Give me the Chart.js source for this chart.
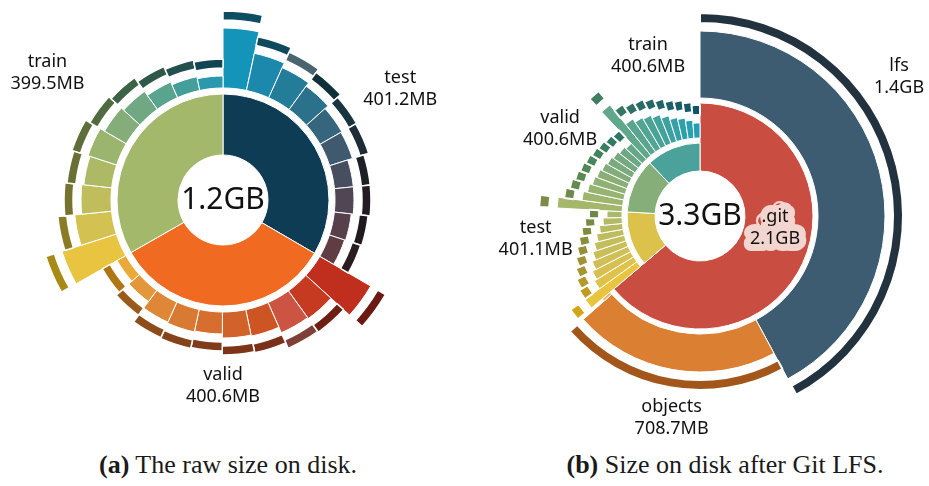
<!DOCTYPE html>
<html>
<head>
<meta charset="utf-8">
<script src="https://cdn.jsdelivr.net/npm/chart.js@4.4.0/dist/chart.umd.min.js"></script>
<style>
    body { margin: 0; background: #fff; width: 929px; height: 486px; position: relative; overflow: hidden; }
    canvas { position: absolute; top: 0; }
    #rawChart { left: 0; }
    #lfsChart { left: 470px; }
    .caption {
        position: absolute; top: 450px; transform: translateX(-50%);
        font-family: "Liberation Serif", "DejaVu Serif", serif; font-size: 26px;
        line-height: 30px; color: #1a1a1a; white-space: nowrap;
    }
</style>
</head>
<body>
<canvas id="rawChart" width="446" height="440"></canvas>
<canvas id="lfsChart" width="460" height="440"></canvas>
<div class="caption" style="left:228px"><b>(a)</b> The raw size on disk.</div>
<div class="caption" style="left:725px"><b>(b)</b> Size on disk after Git LFS.</div>

<script>
// ---- (a) raw dataset folders, MB per shard ----
const rawSplits = ['test', 'valid', 'train'];
const rawTestMB  = [40.3, 40.1, 40.2, 40.0, 40.1, 40.2, 40.1, 40.0, 40.1, 40.1];
const rawValidMB = [40.2, 40.0, 40.1, 40.0, 40.1, 40.0, 40.1, 40.0, 40.1, 40.0];
const rawTrainMB = [40.1, 39.9, 40.0, 39.9, 40.0, 39.9, 40.0, 39.9, 39.9, 39.9];
// how far each shard sticks out past its split ring
const rawSplitDepth = [61, 61, 61];
const rawTestDepth  = [60, 38, 33, 29, 25, 24, 19, 19, 17, 16];
const rawValidDepth = [59, 34, 33, 27, 26, 22, 23, 22, 14, 10];
const rawTrainDepth = [57, 37, 30, 28, 30, 25, 22, 17, 14, 12];

// ---- (b) same repo after git lfs ----
const lfsParts = ['.git', 'test', 'valid', 'train'];
const gitParts = ['lfs', 'objects', 'other'];
const gitPartMB = [1400, 708.7, 12];
const lfsTestMB  = [40.2, 40.1, 40.1, 40.1, 40.1, 40.1, 40.1, 40.1, 40.1, 40.1];
const lfsValidMB = [40.2, 40.0, 40.1, 40.0, 40.1, 40.0, 40.1, 40.0, 40.1, 40.0];
const lfsTrainMB = [40.2, 40.0, 40.1, 40.0, 40.1, 40.0, 40.1, 40.0, 40.1, 40.0];
const lfsPartDepth  = [68, 28, 28, 28];
const gitPartDepth  = [67, 38, 10];
const lfsTestDepth  = [64, 46, 43, 39, 35, 31, 27, 23, 19, 15];
const lfsValidDepth = [65, 41, 37, 34, 32, 30, 28, 26, 24, 22];
const lfsTrainDepth = [65, 40, 36, 34, 31, 27, 23, 21, 18, 15];

// colours
const rawSplitColors = ['#0e3c55', '#f06a21', '#a4b86c'];
const rawFileColors = [
    '#1594ba', '#1c88ab', '#237c98', '#2b718b', '#36667e', '#3f5a6e', '#474e5e', '#504654', '#573f4b', '#603c44',
    '#c02e1e', '#c53a21', '#cb5542', '#cd5524', '#d0622a', '#d56e2e', '#d97a32', '#de8737', '#e4963a', '#eba83b',
    '#e8c441', '#d3c152', '#c0bd5d', '#aeb966', '#9bb46e', '#84ad79', '#70a884', '#5aa38e', '#449e9a', '#2a99ae'
];
const rawTipColors = [
    '#0e4e63', '#0f4a5c', '#4b6570', '#10303a', '#1a3540', '#1f2c36', '#1e2028', '#221c22', '#201a1e', '#2a1c1f',
    '#6a1a12', '#6e1f14', '#7f4038', '#7a3019', '#7c3519', '#7f3b1a', '#86431b', '#8d4d1b', '#9a5a19', '#b07514',
    '#a88a14', '#8a7c25', '#767330', '#6a7035', '#5e6d3b', '#516b40', '#3e6246', '#2f5848', '#22504e', '#124553'
];
const lfsPartColors = ['#c94d40', '#dcc24b', '#86ae78', '#4aa29b'];
const lfsFileColors = [
    '#3e5c71', '#db7f32', '#f2b466',
    '#e8c43f', '#dec24a', '#d7c04f', '#d0bf54', '#cabe58', '#c4bd5c', '#bebc5f', '#b8bb62', '#b2ba65', '#acb968',
    '#a5b76b', '#9eb56e', '#97b371', '#90b174', '#89af77', '#82ad7a', '#7bab7d', '#74a981', '#6da885', '#66a788',
    '#60a78b', '#59a58f', '#52a493', '#4aa397', '#43a29b', '#3ca1a0', '#35a0a5', '#2ea0aa', '#27a0b0', '#1f9fb6'
];
const lfsTipColors = [
    '#22323f', '#a2561a', 'rgba(0,0,0,0)',
    '#d2a717', '#be9c22', '#b3982a', '#a8952f', '#9e9234', '#948f38', '#8a8d3c', '#818b40', '#788944', '#708847',
    '#7c8c46', '#6f8a4a', '#658a4e', '#5b8952', '#528856', '#49865a', '#41835d', '#397f60', '#327b62', '#2c7763',
    '#3f7d63', '#387764', '#317165', '#2b6c66', '#266867', '#216467', '#1c6068', '#185c69', '#14586a', '#10546b'
];

const sum = a => a.reduce((s, v) => s + v, 0);
const mb = v => v.toFixed(1) + 'MB';
const gb = v => (v / 1000).toFixed(1) + 'GB';

// ring geometry (px at a 400px chart area)
const HOLE = 45;

// build the three rings of a sunburst: parents, children, thin tips
function buildRings(parentMB, parentDepth, childGroups, childDepth, opt) {
    const pr0 = parentMB.map(() => HOLE);
    const pr1 = parentDepth.map(d => HOLE + d);
    let childMB = [], owner = [];
    childGroups.forEach((g, p) => { childMB = childMB.concat(g); owner = owner.concat(g.map(() => p)); });
    const cr0 = owner.map(p => pr1[p] + opt.gap);
    const cr1 = cr0.map((r, i) => r + childDepth[i]);
    const tr0 = cr1.map(r => r + opt.tipGap);
    const tr1 = tr0.map((r, i) => opt.noTip[i] ? r : r + opt.tip);
    return [
        { data: childMB, backgroundColor: opt.tipColors, borderColor: '#fff', borderWidth: opt.tipBorder, r0: tr0, r1: tr1 },
        { data: childMB, backgroundColor: opt.childColors, borderColor: '#fff', borderWidth: 1, r0: cr0, r1: cr1 },
        { data: parentMB, backgroundColor: opt.parentColors, borderColor: '#fff', borderWidth: 1, r0: pr0, r1: pr1 }
    ];
}

// set every arc's radii from the dataset's own r0 / r1 lists
const ringRadii = {
    id: 'ringRadii',
    afterDatasetsUpdate(chart) {
        const k = Math.min(chart.chartArea.width, chart.chartArea.height) / 400;
        chart.data.datasets.forEach((ds, d) => {
            chart.getDatasetMeta(d).data.forEach((arc, i) => {
                arc.innerRadius = ds.r0[i] * k;
                arc.outerRadius = ds.r1[i] * k;
            });
        });
    }
};

const ringLabels = {
    id: 'ringLabels',
    afterDraw(chart, args, opts) {
        const { ctx, chartArea } = chart;
        const cx = (chartArea.left + chartArea.right) / 2;
        const cy = (chartArea.top + chartArea.bottom) / 2;
        ctx.save();
        ctx.textAlign = 'center';
        ctx.textBaseline = 'middle';
        ctx.fillStyle = '#111';
        ctx.font = '30px "Noto Sans"';
        ctx.fillText(opts.center, cx, cy);
        ctx.font = '18px "Noto Sans"';
        opts.items.forEach(it => {
            const a = it.angle * Math.PI / 180;
            const x = cx + it.r * Math.sin(a);
            const y = cy - it.r * Math.cos(a);
            if (it.halo) {
                // soft pill behind the text
                ctx.lineWidth = 14;
                ctx.lineJoin = 'round';
                ctx.strokeStyle = it.halo;
                it.lines.forEach((t, j) => ctx.strokeText(t, x, y + (j - (it.lines.length - 1) / 2) * 22));
            }
            it.lines.forEach((t, j) => {
                ctx.fillText(t, x, y + (j - (it.lines.length - 1) / 2) * 22);
            });
        });
        ctx.restore();
    }
};

function sunburst(id, datasets, padding, labels) {
    return new Chart(document.getElementById(id), {
        type: 'doughnut',
        data: { datasets: datasets },
        options: {
            responsive: false,
            animation: false,
            events: [],
            layout: { padding: padding },
            plugins: { legend: { display: false }, tooltip: { enabled: false }, ringLabels: labels }
        },
        plugins: [ringRadii, ringLabels]
    });
}

// ---- chart (a) ----
const rawSplitMB = [sum(rawTestMB), sum(rawValidMB), sum(rawTrainMB)];
const rawSets = buildRings(
    rawSplitMB, rawSplitDepth,
    [rawTestMB, rawValidMB, rawTrainMB],
    rawTestDepth.concat(rawValidDepth, rawTrainDepth),
    { gap: 6, tipGap: 8, tip: 9, tipBorder: 1.5, noTip: [], parentColors: rawSplitColors, childColors: rawFileColors, tipColors: rawTipColors }
);
sunburst('rawChart', rawSets, { left: 23, right: 23, top: 0, bottom: 40 }, {
    center: gb(sum(rawSplitMB)),
    items: [
        { lines: [rawSplits[0], mb(rawSplitMB[0])], angle: 58, r: 209 },
        { lines: [rawSplits[1], mb(rawSplitMB[1])], angle: 180, r: 186 },
        { lines: [rawSplits[2], mb(rawSplitMB[2])], angle: 306, r: 217 }
    ]
});

// ---- chart (b) ----
const gitMB = sum(gitPartMB);
const lfsPartMB = [gitMB, sum(lfsTestMB), sum(lfsValidMB), sum(lfsTrainMB)];
const lfsSets = buildRings(
    lfsPartMB, lfsPartDepth,
    [gitPartMB, lfsTestMB, lfsValidMB, lfsTrainMB],
    gitPartDepth.concat(lfsTestDepth, lfsValidDepth, lfsTrainDepth),
    { gap: 5, tipGap: 8, tip: 10, tipBorder: 2, noTip: [false, false, true], parentColors: lfsPartColors, childColors: lfsFileColors, tipColors: lfsTipColors }
);
sunburst('lfsChart', lfsSets, { left: 30, right: 30, top: 16, bottom: 24 }, {
    center: gb(sum(lfsPartMB)),
    items: [
        { lines: [gitParts[0], gb(gitPartMB[0])], angle: 55, r: 243 },
        { lines: [gitParts[1], mb(gitPartMB[1])], angle: 188, r: 204 },
        { lines: [lfsParts[0], gb(gitMB)], angle: 99, r: 76, halo: '#f3d5d0' },
        { lines: [lfsParts[1], mb(lfsPartMB[1])], angle: 262, r: 166 },
        { lines: [lfsParts[2], mb(lfsPartMB[2])], angle: 302, r: 165 },
        { lines: [lfsParts[3], mb(lfsPartMB[3])], angle: 342, r: 168 }
    ]
});
</script>
</body>
</html>
